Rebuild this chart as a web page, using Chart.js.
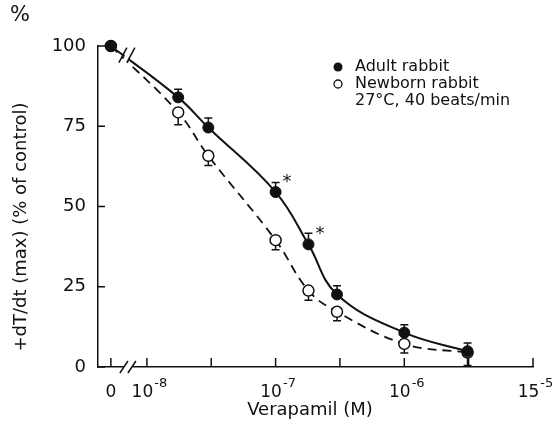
<!DOCTYPE html>
<html><head><meta charset="utf-8">
<script src="https://cdn.jsdelivr.net/npm/chart.js@4"></script>
<style>html,body{margin:0;padding:0;background:#fff}#wrap{width:556px;height:431px;position:relative}</style>
</head><body><div id="wrap"><canvas id="c" width="556" height="431"></canvas></div>
<script>
// ---- data ----
const concentrations = [0, 1.75e-8, 3e-8, 1e-7, 1.8e-7, 3e-7, 1e-6, 3.1e-6];
const adultValues    = [100, 84, 74.6, 54.5, 38.2, 22.6, 10.7, 4.9];
const adultErrors    = [0, 2.5, 3, 3, 3.5, 2.7, 2.5, 2.6];
const newbornValues  = [100, 79.3, 65.8, 39.5, 23.8, 17.2, 7.2, 4.5];
const newbornErrors  = [0, 3.8, 3, 3, 3, 2.8, 2.8, 4];
const significant    = [false, false, false, true, true, false, false, false];
const xTickValues = [0, 1e-8, 3.16e-8, 1e-7, 3.16e-7, 1e-6, 3.16e-6, 1e-5];
const xTickBases  = ['0', '10', '', '10', '', '10', '', '15'];
const xTickExps   = ['', '-8', '', '-7', '', '-6', '', '-5'];
const yTickValues = [0, 25, 50, 75, 100];
const legendLabels = ['Adult rabbit', 'Newborn rabbit', '27°C, 40 beats/min'];
const xTitle = 'Verapamil (M)';
const yTitle = '+dT/dt (max) (% of control)';

// zero concentration is shown before an axis break
const ZERO_POS = -8.28;
const toX = v => v === 0 ? ZERO_POS : Math.log10(v);

const FONT = '"DejaVu Sans", sans-serif';
const INK = '#111';

const adultPts = concentrations.map((c, i) => ({x: toX(c), y: adultValues[i]}));
const newbornPts = concentrations.map((c, i) => ({x: toX(c), y: newbornValues[i]}));

const deco = {
  id: 'deco',
  beforeDatasetsDraw(chart) {
    const {ctx, scales: {x, y}} = chart;
    ctx.save();
    ctx.strokeStyle = INK; ctx.lineWidth = 1.5;
    const cap = 4;
    concentrations.forEach((c, i) => {
      const px = x.getPixelForValue(toX(c));
      if (adultErrors[i] > 0) {
        const p0 = y.getPixelForValue(adultValues[i]);
        const p1 = y.getPixelForValue(adultValues[i] + adultErrors[i]);
        ctx.beginPath(); ctx.moveTo(px, p0); ctx.lineTo(px, p1);
        ctx.moveTo(px - cap, p1); ctx.lineTo(px + cap, p1); ctx.stroke();
      }
      if (newbornErrors[i] > 0) {
        const p0 = y.getPixelForValue(newbornValues[i]);
        const p1 = y.getPixelForValue(newbornValues[i] - newbornErrors[i]);
        ctx.beginPath(); ctx.moveTo(px, p0); ctx.lineTo(px, p1);
        ctx.moveTo(px - cap, p1); ctx.lineTo(px + cap, p1); ctx.stroke();
      }
    });
    ctx.restore();
  },
  afterDraw(chart) {
    const {ctx, chartArea: ca, scales: {x, y}} = chart;
    ctx.save();
    ctx.strokeStyle = INK; ctx.fillStyle = INK; ctx.lineWidth = 1.5;
    // inward ticks
    xTickValues.forEach(v => {
      const px = x.getPixelForValue(toX(v));
      ctx.beginPath(); ctx.moveTo(px, ca.bottom); ctx.lineTo(px, ca.bottom - 9); ctx.stroke();
    });
    yTickValues.forEach(v => {
      const py = y.getPixelForValue(v);
      ctx.beginPath(); ctx.moveTo(ca.left, py); ctx.lineTo(ca.left + 7, py); ctx.stroke();
    });
    // x tick labels with raised exponents
    ctx.textBaseline = 'alphabetic';
    xTickValues.forEach((v, i) => {
      if (!xTickBases[i]) return;
      const px = x.getPixelForValue(toX(v));
      ctx.font = '17px ' + FONT;
      const wb = ctx.measureText(xTickBases[i]).width;
      ctx.font = '13px ' + FONT;
      const we = xTickExps[i] ? ctx.measureText(xTickExps[i]).width : 0;
      const start = px - (wb + we) / 2 + (xTickExps[i] ? 2 : 0);
      ctx.textAlign = 'left';
      ctx.font = '17px ' + FONT;
      ctx.fillText(xTickBases[i], start, 397);
      if (xTickExps[i]) {
        ctx.font = '13px ' + FONT;
        ctx.fillText(xTickExps[i], start + wb + 1, 387);
      }
    });
    // x axis break
    const bx = (x.getPixelForValue(ZERO_POS) + x.getPixelForValue(-8)) / 2;
    ctx.fillStyle = '#fff';
    ctx.fillRect(bx - 5, ca.bottom - 3, 9, 6);
    ctx.fillStyle = INK;
    [[-9, -1], [-1, 7]].forEach(([a, b]) => {
      ctx.beginPath(); ctx.moveTo(bx + a, ca.bottom + 6); ctx.lineTo(bx + b, ca.bottom - 6); ctx.stroke();
    });
    // curve break
    const cx = bx - 6, cy = y.getPixelForValue(97);
    ctx.fillStyle = '#fff';
    ctx.beginPath();
    ctx.moveTo(cx - 2, cy + 8); ctx.lineTo(cx + 6, cy - 8); ctx.lineTo(cx + 10, cy - 6); ctx.lineTo(cx + 2, cy + 10);
    ctx.closePath(); ctx.fill();
    ctx.fillStyle = INK;
    [[-4, 4], [4, 12]].forEach(([a, b]) => {
      ctx.beginPath(); ctx.moveTo(cx + a, cy + 7); ctx.lineTo(cx + b, cy - 8); ctx.stroke();
    });
    // asterisks
    ctx.font = '18px ' + FONT; ctx.textAlign = 'left'; ctx.textBaseline = 'middle';
    concentrations.forEach((c, i) => {
      if (!significant[i]) return;
      const px = x.getPixelForValue(toX(c)), py = y.getPixelForValue(adultValues[i]);
      ctx.fillText('*', px + 7, py - 10);
    });
    // legend
    ctx.font = '16px ' + FONT;
    ctx.beginPath(); ctx.arc(338, 67, 4.5, 0, Math.PI * 2); ctx.fill();
    ctx.beginPath(); ctx.arc(338, 84, 4, 0, Math.PI * 2); ctx.lineWidth = 1.3; ctx.stroke();
    ctx.fillText(legendLabels[0], 355, 67);
    ctx.fillText(legendLabels[1], 355, 84);
    ctx.fillText(legendLabels[2], 355, 101);
    // titles
    ctx.textAlign = 'center';
    ctx.font = '18px ' + FONT;
    ctx.fillText(xTitle, 310, 410);
    ctx.font = '21px ' + FONT;
    ctx.fillText('%', 20, 16);
    ctx.save();
    ctx.translate(21, 227); ctx.rotate(-Math.PI / 2);
    ctx.font = '18px ' + FONT;
    ctx.fillText(yTitle, 0, 0);
    ctx.restore();
    ctx.restore();
  }
};

new Chart(document.getElementById('c'), {
  type: 'line',
  data: {
    datasets: [
      {label: 'Adult rabbit', data: adultPts, borderColor: INK, borderWidth: 2,
       pointRadius: 5.5, pointBackgroundColor: INK, pointBorderColor: INK, pointBorderWidth: 1,
       tension: 0.4, fill: false, clip: false, order: 0},
      {label: 'Newborn rabbit', data: newbornPts, borderColor: INK, borderWidth: 1.8, borderDash: [9, 6],
       pointRadius: 5.5, pointBackgroundColor: '#fff', pointBorderColor: INK, pointBorderWidth: 1.5,
       tension: 0.4, fill: false, clip: false, order: 1}
    ]
  },
  options: {
    responsive: false, animation: false, devicePixelRatio: 1,
    layout: {padding: {top: 46, right: 23, left: 0, bottom: 0}},
    plugins: {legend: {display: false}, tooltip: {enabled: false}},
    scales: {
      x: {type: 'linear', min: -8.38, max: -5,
          afterFit(s) { s.height = 64; },
          afterBuildTicks(s) { s.ticks = xTickValues.map(v => ({value: toX(v)})); },
          ticks: {display: false},
          grid: {display: false}, border: {display: true, color: INK, width: 1.5}},
      y: {type: 'linear', min: 0, max: 100,
          afterFit(s) { s.width = 98; },
          afterBuildTicks(s) { s.ticks = yTickValues.map(v => ({value: v})); },
          ticks: {font: {family: FONT, size: 18}, color: INK, padding: 4},
          grid: {display: false}, border: {display: true, color: INK, width: 1.5}}
    }
  },
  plugins: [deco]
});
</script></body></html>
